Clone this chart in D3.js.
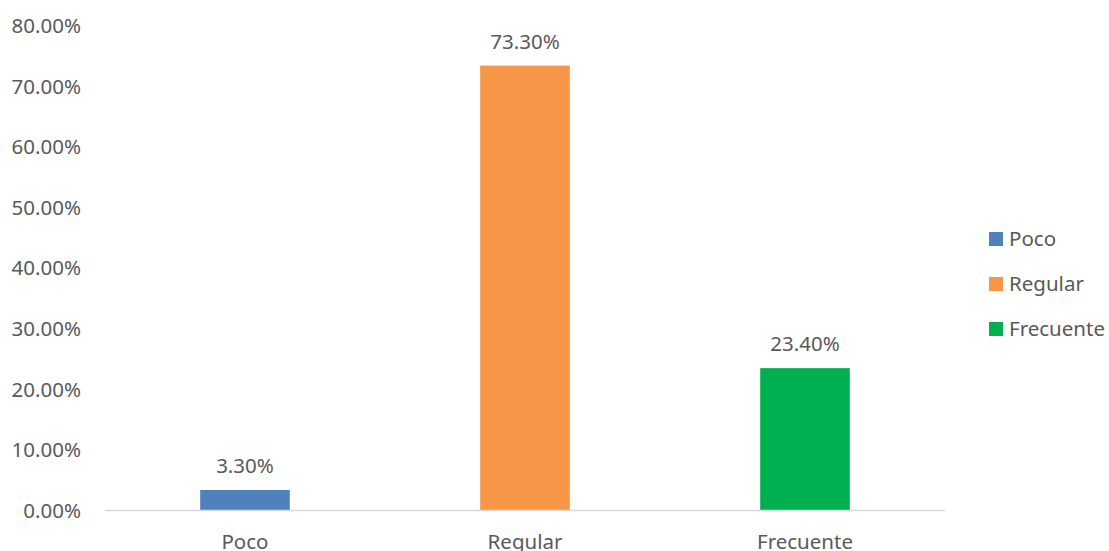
<!DOCTYPE html>
<html>
<head>
<meta charset="utf-8">
<script src="https://cdn.jsdelivr.net/npm/d3@7"></script>
<style>
  html, body { margin: 0; padding: 0; background: #fff; }
  svg { display: block; }
  text { font-family: "Noto Sans", "Open Sans", sans-serif; fill: #595959; }
</style>
</head>
<body>
<svg id="chart" width="1109" height="551"></svg>
<script>
// datos
const categories = ["Poco", "Regular", "Frecuente"];
const values = [0.033, 0.733, 0.234];
const colors = ["#4F81BD", "#F79646", "#00B050"];
const yTicks = [0, 0.1, 0.2, 0.3, 0.4, 0.5, 0.6, 0.7, 0.8];

const svg = d3.select("#chart");
const plot = { left: 105, right: 945, top: 25, bottom: 510 };
const fs = 20.5;

const x = d3.scaleBand()
  .domain(categories)
  .range([plot.left, plot.right])
  .paddingInner(0.68)
  .paddingOuter(0.34);

const y = d3.scaleLinear()
  .domain([0, 0.8])
  .range([plot.bottom, plot.top]);

const pct = d3.format(".2%");

// eje Y (solo etiquetas)
const yAxis = svg.append("g")
  .attr("transform", `translate(${plot.left},0)`)
  .call(d3.axisLeft(y).tickValues(yTicks).tickFormat(pct).tickSize(0).tickPadding(24));
yAxis.select(".domain").remove();
yAxis.selectAll("text")
  .attr("font-size", fs)
  .attr("font-family", null)
  .attr("dy", "0.36em");

// barras
svg.append("g").selectAll("rect")
  .data(values)
  .join("rect")
  .attr("x", (d, i) => x(categories[i]))
  .attr("width", x.bandwidth())
  .attr("y", d => y(d))
  .attr("height", d => y(0) - y(d))
  .attr("fill", (d, i) => colors[i]);

// línea base
svg.append("line")
  .attr("x1", plot.left).attr("x2", plot.right)
  .attr("y1", plot.bottom + 0.5).attr("y2", plot.bottom + 0.5)
  .attr("stroke", "#D9D9D9").attr("stroke-width", 1.5);

// etiquetas de valor
svg.append("g").selectAll("text")
  .data(values)
  .join("text")
  .attr("x", (d, i) => x(categories[i]) + x.bandwidth() / 2)
  .attr("y", d => y(d) - 17)
  .attr("text-anchor", "middle")
  .attr("font-size", fs)
  .text(d => pct(d));

// eje X
const xAxis = svg.append("g")
  .attr("transform", `translate(0,${plot.bottom})`)
  .call(d3.axisBottom(x).tickSize(0).tickPadding(24));
xAxis.select(".domain").remove();
xAxis.selectAll("text")
  .attr("font-size", fs)
  .attr("font-family", null);

// leyenda
const legend = svg.append("g").attr("transform", "translate(989,232)");
const item = legend.selectAll("g")
  .data(categories)
  .join("g")
  .attr("transform", (d, i) => `translate(0,${i * 45})`);
item.append("rect")
  .attr("width", 14).attr("height", 14)
  .attr("fill", (d, i) => colors[i]);
item.append("text")
  .attr("x", 20).attr("y", 7).attr("dy", "0.36em")
  .attr("font-size", fs)
  .text(d => d);
</script>
</body>
</html>
